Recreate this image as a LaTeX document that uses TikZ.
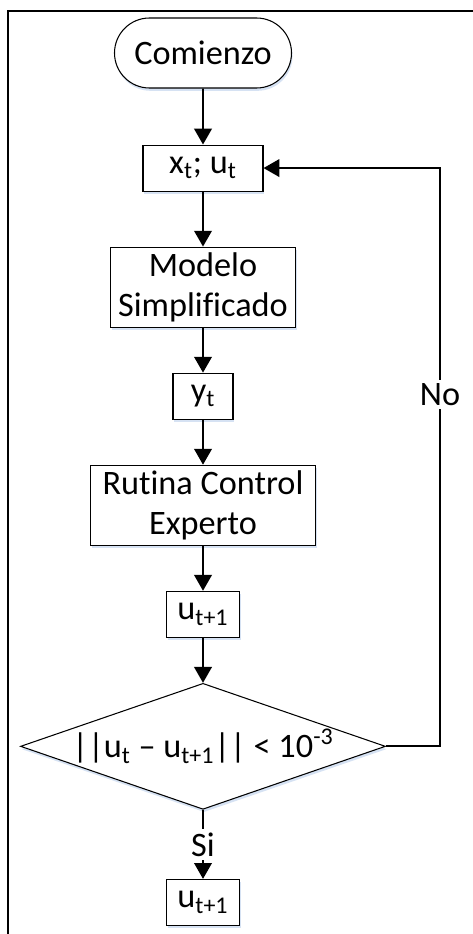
\documentclass[tikz,border=0pt]{standalone}
\usepackage{fontspec}
\setmainfont[Ligatures=NoCommon]{Carlito}
\usepackage{xcolor}
\usetikzlibrary{shapes,arrows.meta,positioning,shadows}
\definecolor{shadowblue}{RGB}{214,226,243}
\newcommand{\flowfont}{\fontsize{19.5}{23}\selectfont}
\tikzset{
	>={Triangle[length=9pt,width=10pt]},
	boxshadow/.style={drop shadow={shadow xshift=0.6pt, shadow yshift=-1.6pt, fill=shadowblue, opacity=1}},
	terminal/.style={rounded rectangle, draw, line width=0.6pt, fill=white, minimum width=3.54cm, minimum height=1.4cm, font=\flowfont, inner sep=0pt, boxshadow},
	varbox/.style={rectangle, draw, line width=0.6pt, fill=white, minimum height=0.92cm, font=\flowfont, inner sep=0pt, boxshadow},
	process/.style={rectangle, draw, line width=0.6pt, fill=white, minimum height=1.6cm, font=\flowfont, align=center, inner sep=0pt, boxshadow},
	decision/.style={diamond, draw, line width=0.6pt, fill=white, minimum width=7.3cm, minimum height=2.52cm, shape aspect=2.9, font=\flowfont, inner xsep=-0.1cm, inner ysep=0pt, boxshadow},
	flow/.style={->, line width=1.1pt},
	answer/.style={fill=white, inner sep=2pt, font=\flowfont}
}

\begin{document}
\begin{tikzpicture}[node distance=0.9cm]

	\useasboundingbox (0,0) rectangle (9.44,-18.68);
	% frame
	\draw[line width=1.2pt] (0.16,-19.5) |- (10,-0.22);

	% --- Nodes ---
	\node[terminal] (start) at (4.06,-1.06) {Comienzo};
	\node[varbox, minimum width=2.4cm, below=1.12cm of start] (xu) {x\textsubscript{t}; u\textsubscript{t}};
	\node[process, minimum width=3.7cm, below=1.1cm of xu] (model) {Modelo\\Simplificado};
	\node[varbox, minimum width=1.2cm, below=of model] (yt) {y\textsubscript{t}};
	\node[process, minimum width=4.5cm, below=of yt] (expert) {Rutina Control\\Experto};
	\node[varbox, minimum width=1.46cm, below=of expert] (unext) {u\textsubscript{t+1}};
	\node[decision, below=of unext] (check) {||u\textsubscript{t} – u\textsubscript{t+1}|| < 10\textsuperscript{-3}};
	\node[varbox, minimum width=1.46cm, below=1.38cm of check] (result) {u\textsubscript{t+1}};

	\coordinate[right=1.08cm of check.east] (back);

	% --- Connections ---
	\draw[flow] (start) -- (xu);
	\draw[flow] (xu) -- (model);
	\draw[flow] (model) -- (yt);
	\draw[flow] (yt) -- (expert);
	\draw[flow] (expert) -- (unext);
	\draw[flow] (unext) -- (check);
	\draw[flow] (check.south) -- node[answer] {Si} (result);
	\draw[flow] (check.east) -- (back) |- node[answer, pos=0.304] {No} (xu.east);

\end{tikzpicture}
\end{document}
